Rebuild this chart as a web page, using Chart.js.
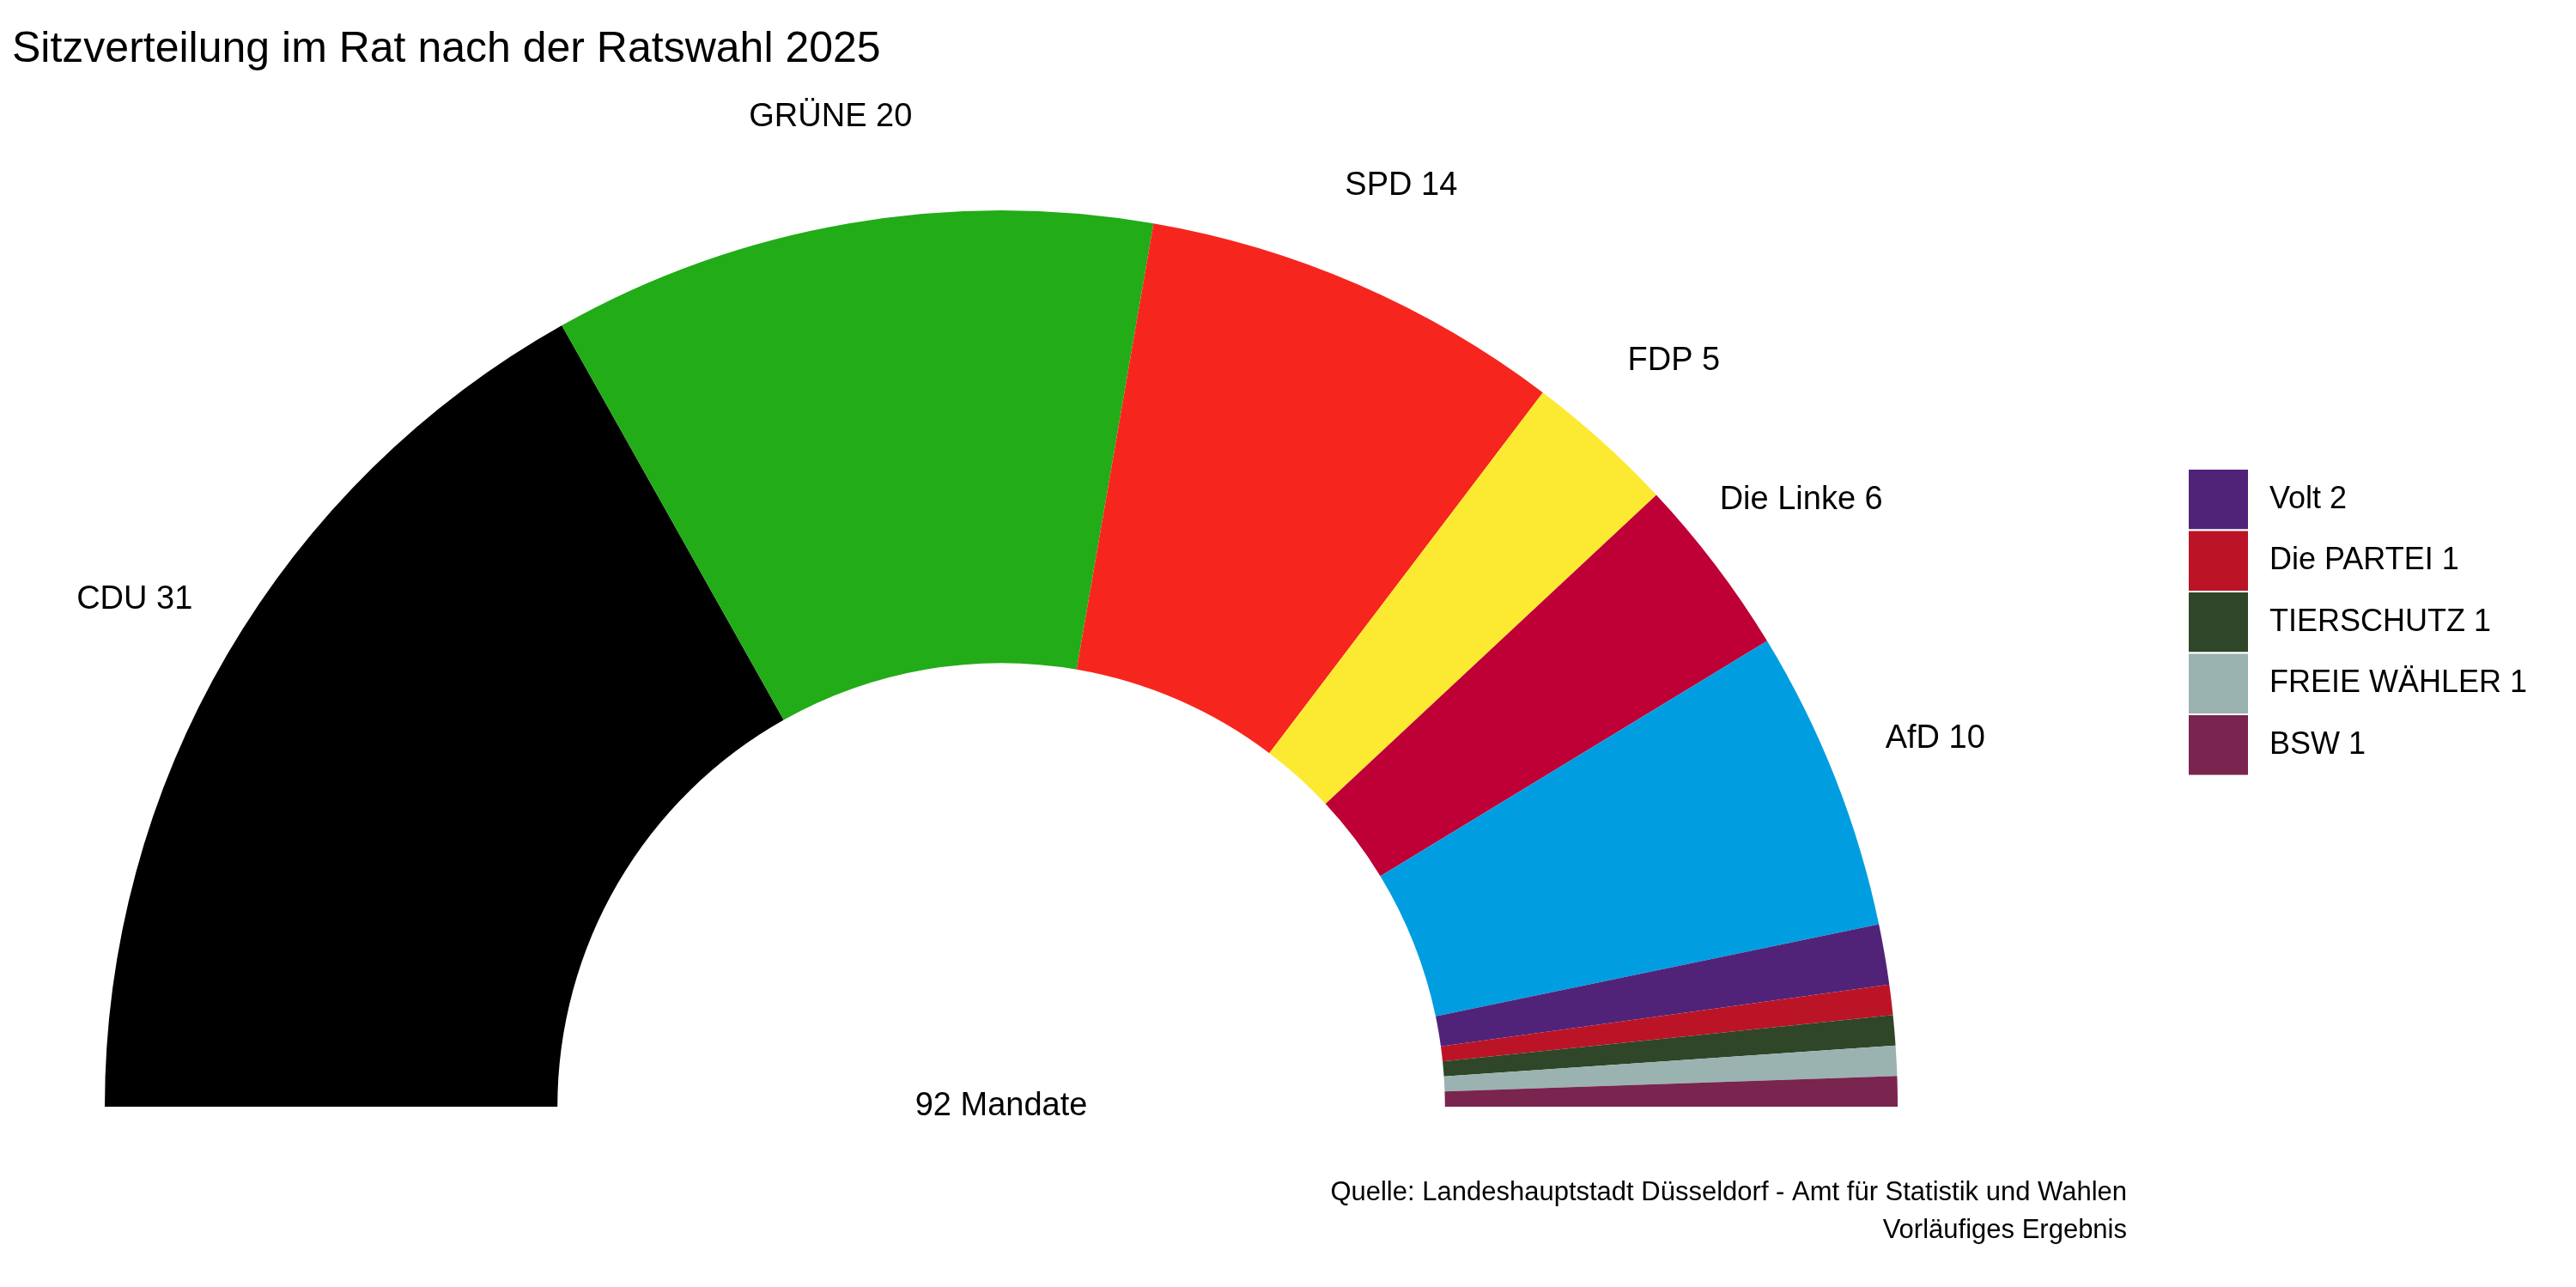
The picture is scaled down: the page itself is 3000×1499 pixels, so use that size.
<!DOCTYPE html>
<html>
<head>
<meta charset="utf-8">
<script src="https://cdn.jsdelivr.net/npm/chart.js@4"></script>
<style>
  body { margin: 0; background: #fff; }
  canvas { display: block; }
</style>
</head>
<body>
<canvas id="chart" width="3000" height="1499"></canvas>
<script>
const parties = ['CDU', 'GRÜNE', 'SPD', 'FDP', 'Die Linke', 'AfD', 'Volt', 'Die PARTEI', 'TIERSCHUTZ', 'FREIE WÄHLER', 'BSW'];
const seats = [31, 20, 14, 5, 6, 10, 2, 1, 1, 1, 1];
const colors = ['#000000', '#22AC17', '#F6261E', '#FBEA31', '#BE0036', '#009EE0', '#502379', '#BB1426', '#2F4628', '#9AB3B0', '#7A2450'];
const legendParties = ['Volt', 'Die PARTEI', 'TIERSCHUTZ', 'FREIE WÄHLER', 'BSW'];

const FONT = '"Liberation Sans", Arial, sans-serif';
const total = seats.reduce((a, b) => a + b, 0);

// Beschriftungen, Titel, Legende und Quelle
const extras = {
    id: 'extras',
    afterDraw(chart) {
        const ctx = chart.ctx;
        const arc0 = chart.getDatasetMeta(0).data[0];
        const cx = arc0.x, cy = arc0.y, r = arc0.outerRadius;
        ctx.save();
        ctx.fillStyle = '#000';
        ctx.textBaseline = 'middle';

        // Labels aussen fuer grosse Parteien
        ctx.font = '38px ' + FONT;
        ctx.textAlign = 'center';
        chart.getDatasetMeta(0).data.forEach((arc, i) => {
            if (legendParties.includes(parties[i])) return;
            const mid = (arc.startAngle + arc.endAngle) / 2;
            const lr = r * 1.12;
            ctx.fillText(parties[i] + ' ' + seats[i], cx + Math.cos(mid) * lr, cy + Math.sin(mid) * lr);
        });

        ctx.fillText(total + ' Mandate', cx, cy);

        // Titel
        ctx.textAlign = 'left';
        ctx.font = '50px ' + FONT;
        ctx.fillText('Sitzverteilung im Rat nach der Ratswahl 2025', 14, 58);

        // Legende
        const lx = 2548, ly = 546, bw = 71, bh = 71.5;
        ctx.font = '36px ' + FONT;
        legendParties.forEach((p, k) => {
            const i = parties.indexOf(p);
            ctx.fillStyle = colors[i];
            ctx.fillRect(lx, ly + k * bh, bw, bh);
            ctx.strokeStyle = '#fff';
            ctx.lineWidth = 2;
            ctx.strokeRect(lx, ly + k * bh, bw, bh);
            ctx.fillStyle = '#000';
            ctx.fillText(p + ' ' + seats[i], lx + bw + 24, ly + k * bh + bh / 2);
        });

        // Quelle
        ctx.textAlign = 'right';
        ctx.font = '31px ' + FONT;
        ctx.fillText('Quelle: Landeshauptstadt Düsseldorf - Amt für Statistik und Wahlen', 2477, 1389);
        ctx.fillText('Vorläufiges Ergebnis', 2477, 1433);
        ctx.restore();
    }
};

new Chart(document.getElementById('chart'), {
    type: 'doughnut',
    data: {
        labels: parties,
        datasets: [{
            data: seats,
            backgroundColor: colors,
            borderWidth: 0
        }]
    },
    options: {
        responsive: false,
        animation: false,
        devicePixelRatio: 1,
        rotation: -90,
        circumference: 180,
        cutout: '49.5%',
        layout: { padding: { left: 122, right: 790, top: 245, bottom: 210 } },
        plugins: {
            legend: { display: false },
            tooltip: { enabled: false }
        }
    },
    plugins: [extras]
});
</script>
</body>
</html>
